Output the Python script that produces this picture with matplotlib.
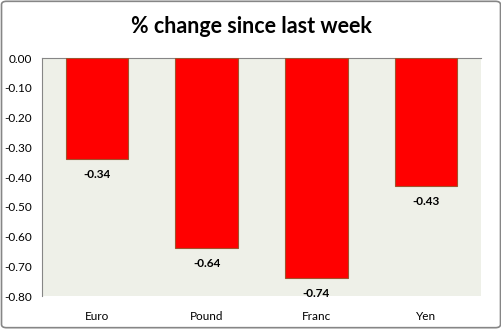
import matplotlib
matplotlib.use("Agg")
import matplotlib.pyplot as plt
from matplotlib.patches import FancyBboxPatch

categories = ["Euro", "Pound", "Franc", "Yen"]
values = [-0.34, -0.64, -0.74, -0.43]
yticks = [0.0, -0.1, -0.2, -0.3, -0.4, -0.5, -0.6, -0.7, -0.8]

plt.rcParams['font.family'] = ['Lato', 'DejaVu Sans']

fig = plt.figure(figsize=(5.02, 3.29), dpi=100)
ax = fig.add_axes([0.0837, 0.100, 0.958 - 0.0837, 0.8237 - 0.100])
ax.set_facecolor("#EEF0E8")

x = list(range(len(categories)))
ax.bar(x, values, width=0.57, color="#FF0000", edgecolor="#A0522D", linewidth=0.8, zorder=3)

for xi, v in zip(x, values):
    ax.annotate(f"{v:.2f}", (xi, v), xytext=(0, -11), textcoords="offset points",
                ha="center", va="center", fontsize=8.5, fontweight="bold", color="#000000")

ax.set_xlim(-0.5, len(categories) - 0.5)
ax.set_ylim(-0.8, 0)
ax.set_yticks(yticks)
ax.set_yticklabels([f"{t:.2f}" for t in yticks], fontsize=8.5)
ax.set_xticks(x)
ax.set_xticklabels(categories, fontsize=8.5)
ax.tick_params(axis="both", length=0)
ax.tick_params(axis="x", pad=11)
ax.tick_params(axis="y", pad=7)

for side in ["right", "bottom"]:
    ax.spines[side].set_visible(False)
for side in ["left", "top"]:
    ax.spines[side].set_color("#868686")
    ax.spines[side].set_linewidth(0.8)

fig.text(0.5, 0.918, "% change since last week", ha="center", va="center",
         fontsize=15.5, fontweight="bold")

border = FancyBboxPatch((0.003, 0.004), 0.994, 0.992, boxstyle="round,pad=0,rounding_size=0.01",
                        transform=fig.transFigure, fill=False, edgecolor="#868686", linewidth=1.2)
fig.patches.append(border)

fig.savefig("out.png", dpi=100)
